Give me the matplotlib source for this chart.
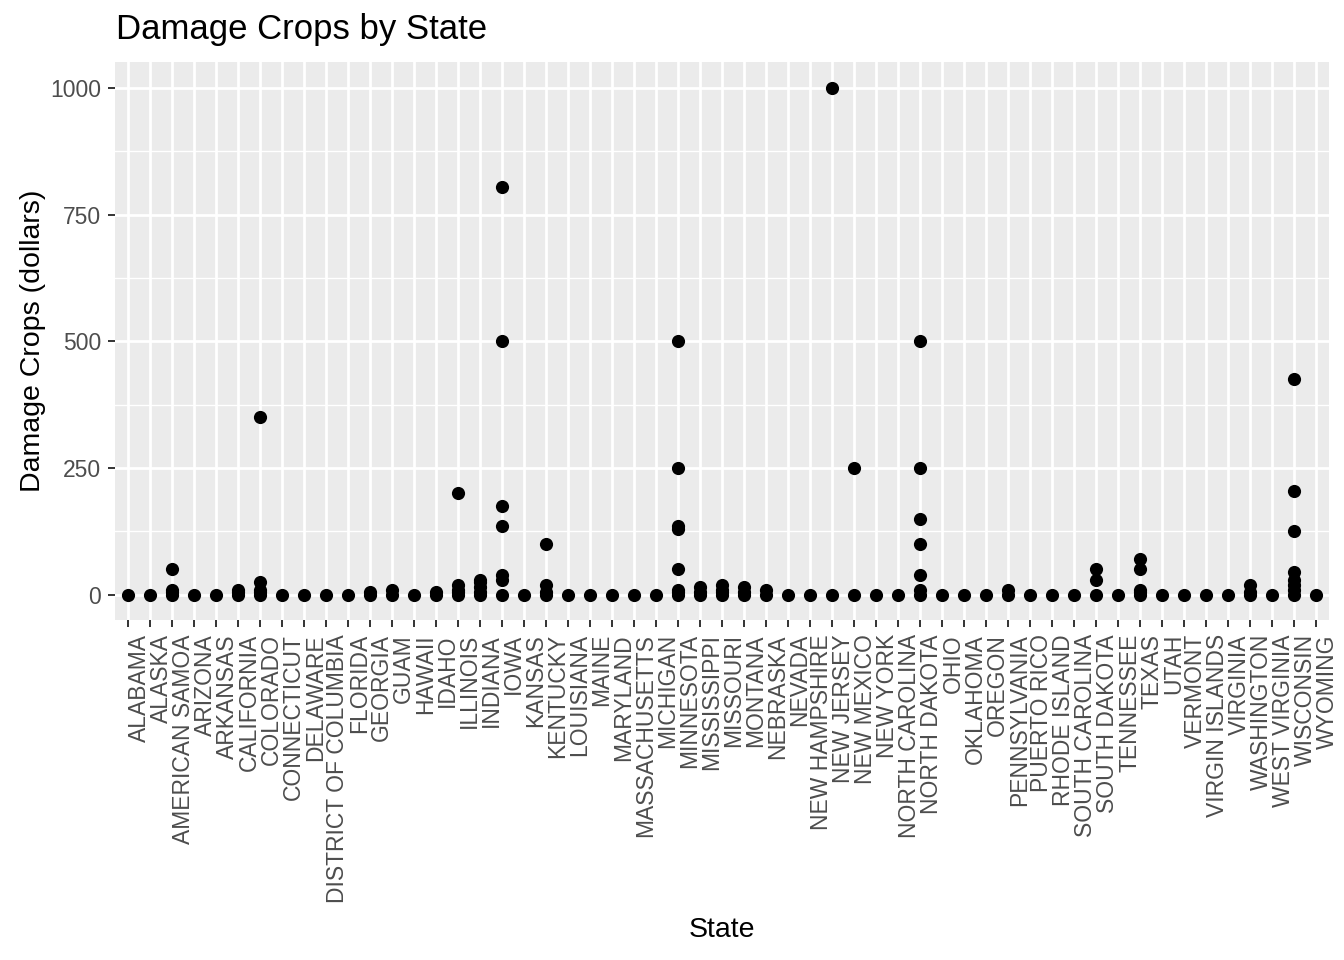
import matplotlib
matplotlib.use('Agg')
import matplotlib.pyplot as plt
from matplotlib.ticker import MultipleLocator

plt.rcParams['font.family'] = ['Liberation Sans', 'DejaVu Sans']

# categories (x axis order)
states = [
    'ALABAMA', 'ALASKA', 'AMERICAN SAMOA', 'ARIZONA', 'ARKANSAS', 'CALIFORNIA',
    'COLORADO', 'CONNECTICUT', 'DELAWARE', 'DISTRICT OF COLUMBIA', 'FLORIDA',
    'GEORGIA', 'GUAM', 'HAWAII', 'IDAHO', 'ILLINOIS', 'INDIANA', 'IOWA',
    'KANSAS', 'KENTUCKY', 'LOUISIANA', 'MAINE', 'MARYLAND', 'MASSACHUSETTS',
    'MICHIGAN', 'MINNESOTA', 'MISSISSIPPI', 'MISSOURI', 'MONTANA', 'NEBRASKA',
    'NEVADA', 'NEW HAMPSHIRE', 'NEW JERSEY', 'NEW MEXICO', 'NEW YORK',
    'NORTH CAROLINA', 'NORTH DAKOTA', 'OHIO', 'OKLAHOMA', 'OREGON',
    'PENNSYLVANIA', 'PUERTO RICO', 'RHODE ISLAND', 'SOUTH CAROLINA',
    'SOUTH DAKOTA', 'TENNESSEE', 'TEXAS', 'UTAH', 'VERMONT', 'VIRGIN ISLANDS',
    'VIRGINIA', 'WASHINGTON', 'WEST VIRGINIA', 'WISCONSIN', 'WYOMING',
]

extra_state = [
    'AMERICAN SAMOA', 'AMERICAN SAMOA', 'AMERICAN SAMOA',
    'CALIFORNIA', 'CALIFORNIA',
    'COLORADO', 'COLORADO', 'COLORADO', 'COLORADO',
    'GEORGIA', 'GUAM', 'IDAHO',
    'ILLINOIS', 'ILLINOIS', 'ILLINOIS', 'ILLINOIS',
    'INDIANA', 'INDIANA', 'INDIANA', 'INDIANA',
    'IOWA', 'IOWA', 'IOWA', 'IOWA', 'IOWA', 'IOWA',
    'KENTUCKY', 'KENTUCKY', 'KENTUCKY',
    'MINNESOTA', 'MINNESOTA', 'MINNESOTA', 'MINNESOTA', 'MINNESOTA', 'MINNESOTA', 'MINNESOTA',
    'MISSISSIPPI', 'MISSISSIPPI', 'MISSOURI', 'MISSOURI', 'MISSOURI',
    'MONTANA', 'MONTANA', 'NEBRASKA',
    'NEW JERSEY', 'NEW MEXICO',
    'NORTH DAKOTA', 'NORTH DAKOTA', 'NORTH DAKOTA', 'NORTH DAKOTA', 'NORTH DAKOTA', 'NORTH DAKOTA',
    'PENNSYLVANIA',
    'SOUTH DAKOTA', 'SOUTH DAKOTA',
    'TEXAS', 'TEXAS', 'TEXAS', 'TEXAS',
    'WASHINGTON', 'WASHINGTON',
    'WISCONSIN', 'WISCONSIN', 'WISCONSIN', 'WISCONSIN', 'WISCONSIN', 'WISCONSIN', 'WISCONSIN',
]
extra_damage = [
    5, 10, 50,
    5, 10,
    5, 10, 25, 350,
    5, 10, 5,
    5, 10, 20, 200,
    5, 15, 25, 30,
    30, 40, 135, 175, 500, 805,
    5, 20, 100,
    5, 10, 50, 130, 135, 250, 500,
    5, 15, 5, 10, 20,
    5, 15, 10,
    1000, 250,
    10, 40, 100, 150, 250, 500,
    10,
    30, 50,
    5, 10, 50, 70,
    5, 20,
    10, 20, 30, 45, 125, 205, 425,
]

# every state has at least one zero-damage event
point_state = states + extra_state
point_damage = [0] * len(states) + extra_damage

fig = plt.figure(figsize=(13.44, 9.6), dpi=100)
ax = fig.add_axes([0.0856, 0.354, 0.9034, 0.581])

ax.set_facecolor('#EBEBEB')
for s in ax.spines.values():
    s.set_visible(False)

pos = {name: i + 1 for i, name in enumerate(states)}
xs = [pos[s] for s in point_state]
ax.scatter(xs, point_damage, s=90, color='black', zorder=3, linewidths=0)

ax.set_xlim(0.4, len(states) + 0.6)
ax.set_ylim(-50, 1050)
ax.set_xticks(range(1, len(states) + 1))
# ggplot puts rotated labels just right of the tick
ax.set_xticklabels(states, rotation=90, ha='left', fontsize=16.5, color='#4D4D4D')

ax.yaxis.set_major_locator(MultipleLocator(250))
ax.yaxis.set_minor_locator(MultipleLocator(125))
ax.tick_params(axis='y', which='major', labelsize=16.5, labelcolor='#4D4D4D',
               color='#333333', length=5, width=1.4, pad=5)
ax.tick_params(axis='y', which='minor', length=0)
ax.tick_params(axis='x', color='#333333', length=5, width=1.4, pad=5)

ax.grid(True, which='major', color='white', linewidth=2.0, zorder=0)
ax.grid(True, which='minor', axis='y', color='white', linewidth=1.0, zorder=0)
ax.set_axisbelow(True)

ax.set_xlabel('State', fontsize=20.5, labelpad=10)
ax.set_ylabel('Damage Crops (dollars)', fontsize=20.5, labelpad=3)
fig.text(0.086, 0.969, 'Damage Crops by State', fontsize=25, va='center', ha='left')

fig.savefig('out.png', dpi=100)
